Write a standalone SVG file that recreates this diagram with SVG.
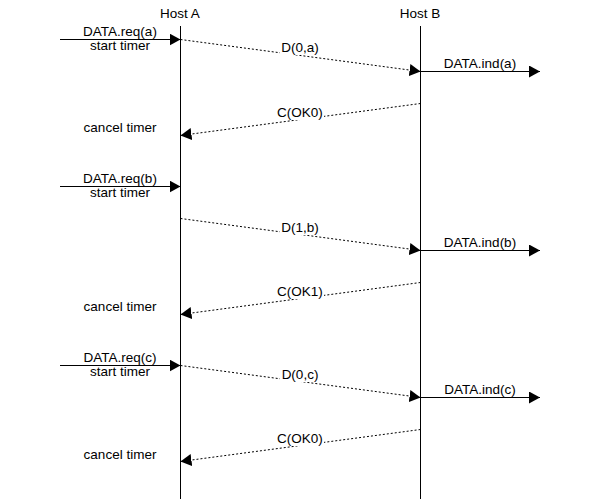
<svg xmlns="http://www.w3.org/2000/svg" width="600" height="499" viewBox="0 0 600 499">
<defs>
<marker id="ah" viewBox="0 0 11 12" refX="11" refY="6" markerWidth="11" markerHeight="12" markerUnits="userSpaceOnUse" orient="auto">
<path d="M0,0 L11,6 L0,12 Z" fill="#000"/>
</marker>
<style>
text{font-family:"Liberation Sans",Arial,sans-serif;font-size:13.5px;fill:#000;text-anchor:middle}
.life{stroke:#000;stroke-width:1;fill:none}
.sol{stroke:#000;stroke-width:1;fill:none;marker-end:url(#ah)}
.dot{stroke:#000;stroke-width:1;fill:none;stroke-dasharray:2,2;marker-end:url(#ah)}
.bg{fill:#fff}
</style>
</defs>
<rect width="600" height="499" fill="#fff"/>
<g id="hostA">
<text x="180" y="18">Host A</text>
<line class="life" x1="180.5" y1="26" x2="180.5" y2="499"/>
</g>
<g id="hostB">
<text x="420" y="18">Host B</text>
<line class="life" x1="420.5" y1="26" x2="420.5" y2="499"/>
</g>
<g id="connectors">
<line class="sol" x1="60" y1="39.5" x2="180.5" y2="39.5"/>
<line class="dot" x1="180.5" y1="39.5" x2="420.5" y2="71.5"/>
<line class="sol" x1="420.5" y1="71.5" x2="540" y2="71.5"/>
<line class="dot" x1="420.5" y1="103.5" x2="180.5" y2="135.5"/>
<line class="sol" x1="60" y1="186.5" x2="180.5" y2="186.5"/>
<line class="dot" x1="180.5" y1="218.5" x2="420.5" y2="250.5"/>
<line class="sol" x1="420.5" y1="250.5" x2="540" y2="250.5"/>
<line class="dot" x1="420.5" y1="282.5" x2="180.5" y2="314.5"/>
<line class="sol" x1="60" y1="365.5" x2="180.5" y2="365.5"/>
<line class="dot" x1="180.5" y1="365.5" x2="420.5" y2="397.5"/>
<line class="sol" x1="420.5" y1="397.5" x2="540" y2="397.5"/>
<line class="dot" x1="420.5" y1="429.5" x2="180.5" y2="461.5"/>
</g>
<g id="labels">
<text x="120" y="36">DATA.req(a)</text>
<text x="120" y="50">start timer</text>
<rect class="bg" x="280" y="41" width="40" height="14"/>
<text x="300" y="52">D(0,a)</text>
<text x="480" y="68">DATA.ind(a)</text>
<rect class="bg" x="273" y="106" width="51" height="14"/>
<text x="300" y="117">C(OK0)</text>
<text x="120" y="132">cancel timer</text>

<text x="120" y="183">DATA.req(b)</text>
<text x="120" y="197">start timer</text>
<rect class="bg" x="280" y="221" width="40" height="14"/>
<text x="300" y="232">D(1,b)</text>
<text x="480" y="247">DATA.ind(b)</text>
<rect class="bg" x="273" y="285" width="51" height="14"/>
<text x="300" y="296">C(OK1)</text>
<text x="120" y="311">cancel timer</text>

<text x="120" y="362">DATA.req(c)</text>
<text x="120" y="376">start timer</text>
<rect class="bg" x="280" y="368" width="40" height="14"/>
<text x="300" y="379">D(0,c)</text>
<text x="480" y="394">DATA.ind(c)</text>
<rect class="bg" x="273" y="432" width="51" height="14"/>
<text x="300" y="443">C(OK0)</text>
<text x="120" y="459">cancel timer</text>
</g>
</svg>
